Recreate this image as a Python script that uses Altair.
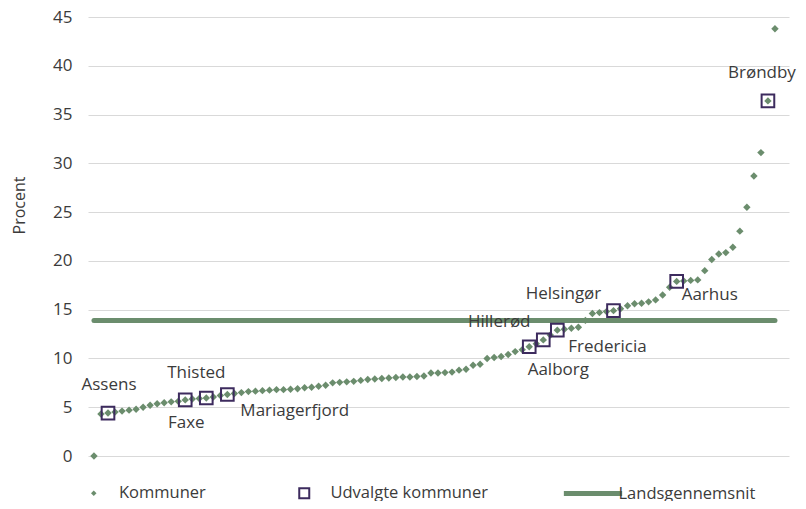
import altair as alt
import pandas as pd

# Andel (procent) for hver kommune, sorteret stigende
values = [
    0.0, 4.3, 4.4, 4.5, 4.6, 4.7, 4.8, 5.0, 5.2, 5.35,
    5.45, 5.55, 5.6, 5.75, 5.85, 5.9, 5.95, 6.05, 6.2, 6.3,
    6.4, 6.5, 6.6, 6.65, 6.7, 6.75, 6.8, 6.8, 6.85, 6.9,
    7.0, 7.05, 7.15, 7.25, 7.5, 7.55, 7.6, 7.65, 7.75, 7.85,
    7.9, 7.95, 8.0, 8.05, 8.1, 8.1, 8.15, 8.2, 8.5, 8.5,
    8.55, 8.6, 8.8, 8.9, 9.3, 9.4, 10.0, 10.1, 10.2, 10.4,
    10.7, 10.9, 11.2, 11.5, 11.9, 12.4, 12.9, 13.0, 13.1, 13.2,
    13.9, 14.6, 14.7, 14.8, 14.9, 15.1, 15.4, 15.6, 15.65, 15.8,
    16.0, 16.5, 17.3, 17.9, 17.95, 18.0, 18.05, 19.0, 20.15, 20.7,
    20.85, 21.4, 23.05, 25.5, 28.7, 31.1, 36.4, 43.8,
]
selected_names = ["Assens", "Faxe", "Thisted", "Mariagerfjord", "Hillerød",
                  "Aalborg", "Fredericia", "Helsingør", "Aarhus", "Brøndby"]
selected_rank = [2, 13, 16, 19, 62, 64, 66, 74, 83, 96]
national_avg = 13.9
y_ticks = [0, 5, 10, 15, 20, 25, 30, 35, 40, 45]

GREEN = "#6b8d6d"
PURPLE = "#3d2b5e"
TEXT = "#3b3b3b"
FONT = "Open Sans"
FS = 17
LFS = 16.5

df = pd.DataFrame({
    "rank": list(range(len(values))),
    "pct": values,
    "snit": [national_avg] * len(values),
    "k_serie": ["Kommuner"] * len(values),
    "l_serie": ["Landsgennemsnit"] * len(values),
})
sel = pd.DataFrame({
    "navn": selected_names,
    "rank": selected_rank,
    "pct": [values[i] for i in selected_rank],
    "u_serie": ["Udvalgte kommuner"] * len(selected_names),
})

x = alt.X("rank:Q", scale=alt.Scale(domain=[-0.85, 99.0], nice=False, zero=False), axis=None)
y_axis = alt.Axis(values=y_ticks, title="Procent", grid=True, gridColor="#d9d9d9", gridWidth=1,
                  domain=False, ticks=False, labelPadding=16, labelFontSize=FS, labelFont=FONT,
                  labelColor=TEXT, titleFontSize=16, titleFont=FONT, titleFontWeight="normal",
                  titleColor=TEXT, titleX=-69, titleY=188, titleAngle=270,
                  titleAlign="center", titleBaseline="middle")
y_scale = alt.Scale(domain=[0, 45], nice=False)
y = alt.Y("pct:Q", scale=y_scale, axis=y_axis)


def leg(lx, ly, **kw):
    return alt.Legend(orient="none", legendX=lx, legendY=ly, title=None, padding=0,
                      labelFont=FONT, labelFontSize=LFS, labelColor=TEXT, labelLimit=400, **kw)


LEG_Y = 468

points = alt.Chart(df).mark_point(shape="diamond", filled=True, size=55, opacity=1).encode(
    x=x, y=y,
    fill=alt.Fill("k_serie:N", scale=alt.Scale(domain=["Kommuner"], range=[GREEN]),
                  legend=leg(-2.5, LEG_Y, symbolType="diamond", symbolSize=30,
                             symbolStrokeWidth=0, labelOffset=17)),
)

avg_line = alt.Chart(df).mark_line(strokeWidth=5, strokeCap="round").encode(
    x=x, y=alt.Y("snit:Q", scale=y_scale, axis=y_axis),
    stroke=alt.Stroke("l_serie:N", scale=alt.Scale(domain=["Landsgennemsnit"], range=[GREEN]),
                      legend=leg(496.5, LEG_Y, symbolType="M-5,0H5", symbolSize=136,
                                 symbolStrokeWidth=5, labelOffset=17)),
)

squares = alt.Chart(sel).mark_point(filled=False, strokeWidth=2, size=160, color=PURPLE, opacity=1).encode(
    x=x, y=y,
    shape=alt.Shape("u_serie:N", scale=alt.Scale(domain=["Udvalgte kommuner"], range=["square"]),
                    legend=leg(208, LEG_Y, symbolSize=100, symbolStrokeWidth=2,
                               symbolStrokeColor=PURPLE, symbolFillColor="transparent",
                               labelOffset=18)),
)

# label offsets (pixels) relative to the marked point
label_style = {
    "Assens": dict(dx=1, dy=-28, align="center"),
    "Faxe": dict(dx=1, dy=23, align="center"),
    "Thisted": dict(dx=-10, dy=-25, align="center"),
    "Mariagerfjord": dict(dx=13, dy=16, align="left"),
    "Hillerød": dict(dx=-30, dy=-25, align="center"),
    "Aalborg": dict(dx=15, dy=30, align="center"),
    "Fredericia": dict(dx=11, dy=17, align="left"),
    "Helsingør": dict(dx=-50, dy=-17, align="center"),
    "Aarhus": dict(dx=5, dy=14, align="left"),
    "Brøndby": dict(dx=-6, dy=-28, align="center"),
}

texts = []
for name in selected_names:
    st = label_style[name]
    texts.append(
        alt.Chart(sel).transform_filter(alt.datum.navn == name).mark_text(
            font=FONT, fontSize=FS, color=TEXT, baseline="middle", **st
        ).encode(x=x, y=y, text="navn:N")
    )

chart = alt.layer(points, avg_line, squares, *texts).resolve_legend(
    fill="independent", stroke="independent", shape="independent"
).properties(
    width=701, height=439,
    padding={"left": 80, "top": 9, "right": 9, "bottom": 45},
    autosize=alt.AutoSizeParams(type="none"),
).configure_view(strokeWidth=0)

chart.save("out.html", embed_options={"renderer": "svg", "actions": False})
